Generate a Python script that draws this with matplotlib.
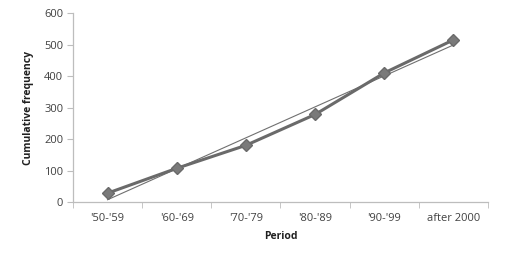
import numpy as np
import matplotlib
matplotlib.use('Agg')
import matplotlib.pyplot as plt

# Dados do gráfico
periodos = ["'50-'59", "'60-'69", "'70-'79", "'80-'89", "'90-'99", "after 2000"]
freq_acumulada = [28, 107, 180, 278, 410, 515]

plt.rcParams['font.family'] = ['Open Sans', 'DejaVu Sans']

fig = plt.figure(figsize=(5.1, 2.62), dpi=100)
ax = fig.add_axes([0.143, 0.229, 0.814, 0.721])

x = np.arange(len(periodos))

# Linha de tendência linear
coef = np.polyfit(x, freq_acumulada, 1)
ax.plot(x, np.polyval(coef, x), color='#707070', lw=0.8, zorder=2)

# Série principal
ax.plot(x, freq_acumulada, color='#6a6a6a', lw=2.2, marker='D', markersize=6.5,
        markerfacecolor='#7a7a7a', markeredgecolor='#6a6a6a', zorder=3)

ax.set_xlim(-0.5, len(periodos) - 0.5)
ax.set_ylim(0, 600)
ax.set_yticks(range(0, 601, 100))
ax.set_xticks(x)
ax.set_xticklabels(periodos)
ax.set_xticks(np.arange(-0.5, len(periodos), 1), minor=True)

for s in ['top', 'right']:
    ax.spines[s].set_visible(False)
for s in ['left', 'bottom']:
    ax.spines[s].set_color('#bdbdbd')
    ax.spines[s].set_linewidth(0.9)

ax.tick_params(axis='x', which='major', length=0, labelsize=8, colors='#404040', pad=8)
ax.tick_params(axis='x', which='minor', length=4, color='#bdbdbd', direction='out')
ax.tick_params(axis='y', length=4, color='#bdbdbd', labelsize=8, colors='#404040', pad=3)

ax.set_xlabel('Period', fontsize=7.5, fontweight='bold', color='#202020', labelpad=5)
ax.set_ylabel('Cumulative frequency', fontsize=7.5, fontweight='bold', color='#202020', labelpad=7)

fig.savefig('out.png', dpi=100)
